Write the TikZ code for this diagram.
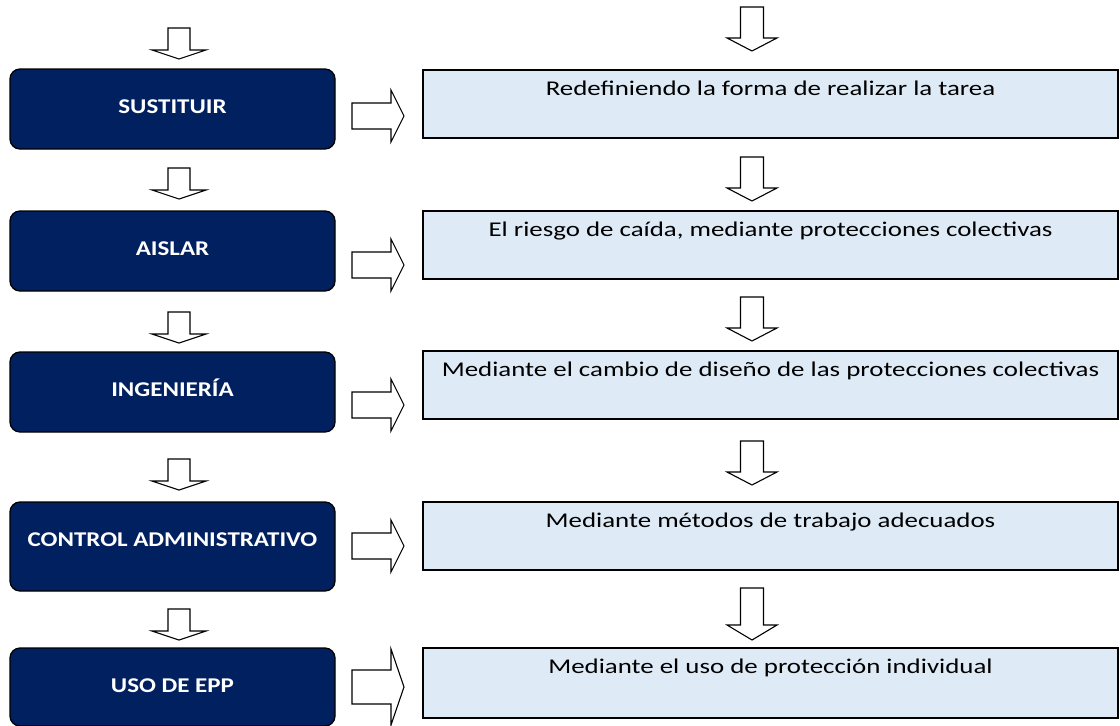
\documentclass[tikz,border=0pt]{standalone}
\usepackage{fontspec}
\setmainfont{Carlito}[FakeStretch=1.28,BoldFeatures={FakeStretch=1.19}]
\definecolor{navy}{RGB}{0,32,96}
\definecolor{paleblue}{RGB}{222,235,247}
\tikzset{
  lbox/.style={draw=black,line width=1.3pt,fill=navy,rounded corners=10pt,
    minimum width=325pt,inner ysep=0pt,text height=44pt,text depth=36pt,
    text=white,font=\fontsize{21}{24}\selectfont\bfseries},
  rbox/.style={draw=black,line width=1.5pt,fill=paleblue,
    minimum width=695pt,inner ysep=5pt,text height=20pt,text depth=38pt,
    font=\fontsize{21}{24}\selectfont},
  blockarrow/.style={draw=black,line width=1.1pt,fill=white},
  pics/downarrow/.style n args={4}{code={%
    \draw[blockarrow] (-#1,0) -- (#1,0) -- (#1,#3) -- (#2,#3) -- (0,#3+#4)
      -- (-#2,#3) -- (-#1,#3) -- cycle;}},
  pics/rightarrow/.style n args={4}{code={%
    \draw[blockarrow] (0,-#1) -- (#3,-#1) -- (#3,-#2) -- (#3+#4,0)
      -- (#3,#2) -- (#3,#1) -- (0,#1) -- cycle;}},
}
\begin{document}
\begin{tikzpicture}[x=1pt,y=-1pt]
\useasboundingbox (0,0) rectangle (1120,726);
% left column
\node[lbox] (sustituir) at (172.5,109) {SUSTITUIR};
\node[lbox] (aislar) at (172.5,251) {AISLAR};
\node[lbox] (ingenieria) at (172.5,392) {INGENIERÍA};
\node[lbox,text depth=45pt] (control) at (172.5,546.5) {CONTROL ADMINISTRATIVO};
\node[lbox,text depth=34pt] (epp) at (172.5,687) {USO DE EPP};
% right column
\node[rbox] (tarea) at (770.5,104) {Redefiniendo la forma de realizar la tarea};
\node[rbox] (caida) at (770.5,245) {El riesgo de caída, mediante protecciones colectivas};
\node[rbox] (diseno) at (770.5,385) {Mediante el cambio de diseño de las protecciones colectivas};
\node[rbox] (metodos) at (770.5,536) {Mediante métodos de trabajo adecuados};
\node[rbox,text depth=40pt] (individual) at (770.5,683) {Mediante el uso de protección individual};
% arrows down, left
\pic (la0) at (179,28) {downarrow={11}{27}{22}{9}};
\pic (la1) at (179,168) {downarrow={11}{27}{22}{9}};
\pic (la2) at (179,312) {downarrow={11}{27}{22}{9}};
\pic (la3) at (179,459) {downarrow={11}{27}{22}{9}};
\pic (la4) at (179,609) {downarrow={11}{27}{22}{9}};
% arrows down, right
\pic (ra0) at (752,7) {downarrow={11.5}{25}{31}{13}};
\pic (ra1) at (752,157) {downarrow={11.5}{25}{31}{13}};
\pic (ra2) at (752,297) {downarrow={11.5}{25}{31}{13}};
\pic (ra3) at (752,441) {downarrow={11.5}{25}{31}{13}};
\pic (ra4) at (752,588) {downarrow={11.5}{25}{37}{15}};
% arrows across
\pic (ha1) at (352,116) {rightarrow={13}{26}{39}{13}};
\pic (ha2) at (352,265) {rightarrow={13}{26}{39}{13}};
\pic (ha3) at (352,405) {rightarrow={13}{26}{39}{13}};
\pic (ha4) at (352,546) {rightarrow={13}{26}{39}{13}};
\pic (ha5) at (352,687) {rightarrow={17}{38}{39}{13}};
\end{tikzpicture}
\end{document}
